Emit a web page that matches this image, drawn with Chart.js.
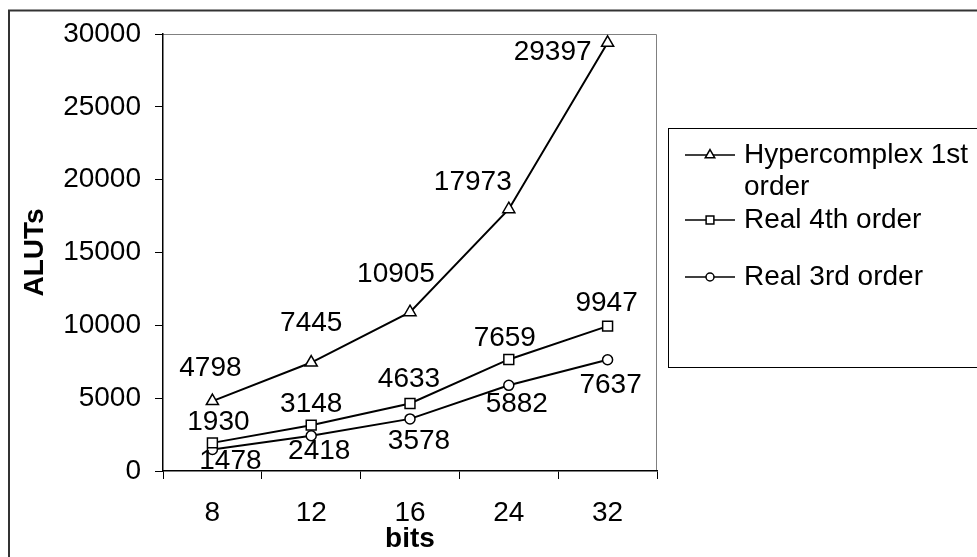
<!DOCTYPE html>
<html>
<head>
<meta charset="utf-8">
<script src="https://cdn.jsdelivr.net/npm/chart.js@4"></script>
<style>
  html, body { margin: 0; padding: 0; background: #fff; }
  #wrap { width: 977px; height: 557px; }
</style>
</head>
<body>
<div id="wrap"><canvas id="can" width="977" height="557"></canvas></div>
<script>
// values
const bits = ['8', '12', '16', '24', '32'];
const hyper1st = [4798, 7445, 10905, 17973, 29397];
const real4th = [1930, 3148, 4633, 7659, 9947];
const real3rd = [1478, 2418, 3578, 5882, 7637];
const yMin = 0, yMax = 30000, yStep = 5000;

// where each value label sits relative to its point (px)
const hyperLblOff = [[-2, -33], [0, -39], [-14, -38], [-36, -27], [-55, 9]];
const r4LblOff = [[6, -21], [0, -21], [-1, -24], [-4, -21], [-1, -23]];
const r3LblOff = [[18, 12], [8, 16], [9, 22], [8, 19], [3, 26]];

const FONT = "'Liberation Sans', Arial, sans-serif";
const FS = 28;
Chart.defaults.font.family = FONT;
Chart.defaults.color = '#000';

// outer frame + plot frame
const framePlugin = {
  id: 'frame',
  beforeDraw(chart) {
    const ctx = chart.ctx;
    ctx.save();
    ctx.strokeStyle = '#333';
    ctx.lineWidth = 2;
    ctx.strokeRect(9, 10.5, 1100, 700);
    const a = chart.chartArea;
    ctx.strokeStyle = '#808080';
    ctx.lineWidth = 1;
    ctx.beginPath();
    ctx.moveTo(a.left, a.top + 0.5);
    ctx.lineTo(a.right - 0.5, a.top + 0.5);
    ctx.lineTo(a.right - 0.5, a.bottom);
    ctx.stroke();
    ctx.restore();
  }
};

// value labels next to each point
const valueLabels = {
  id: 'valueLabels',
  afterDatasetsDraw(chart) {
    const ctx = chart.ctx;
    ctx.save();
    ctx.font = FS + 'px ' + FONT;
    ctx.fillStyle = '#000';
    ctx.textAlign = 'center';
    ctx.textBaseline = 'middle';
    chart.data.datasets.forEach((ds, di) => {
      const meta = chart.getDatasetMeta(di);
      meta.data.forEach((pt, i) => {
        const off = ds.lblOff[i];
        ctx.fillText(String(ds.data[i]), pt.x + off[0], pt.y + off[1]);
      });
    });
    ctx.restore();
  }
};

// boxed legend on the right, drawn by hand (Excel style wrap)
const boxLegend = {
  id: 'boxLegend',
  afterDraw(chart) {
    const ctx = chart.ctx;
    ctx.save();
    ctx.strokeStyle = '#000';
    ctx.lineWidth = 1;
    ctx.strokeRect(668.5, 128.5, 400, 239);
    const rows = [155, 220, 277];
    ctx.font = FS + 'px ' + FONT;
    ctx.textBaseline = 'middle';
    ctx.textAlign = 'left';
    chart.data.datasets.forEach((ds, di) => {
      const y = rows[di];
      ctx.strokeStyle = '#000';
      ctx.lineWidth = 1.5;
      ctx.beginPath();
      ctx.moveTo(685, y);
      ctx.lineTo(735, y);
      ctx.stroke();
      ctx.fillStyle = '#fff';
      ctx.lineWidth = 1.5;
      Chart.helpers.drawPoint(ctx, {pointStyle: ds.pointStyle, radius: ds.legendRadius, borderWidth: 1.5}, 710, y);
      ctx.fillStyle = '#000';
      ds.legendLines.forEach((t, k) => ctx.fillText(t, 744, y + k * 32));
    });
    ctx.restore();
  }
};

const common = {
  borderColor: '#000',
  borderWidth: 2,
  pointBackgroundColor: '#fff',
  pointBorderColor: '#000',
  pointBorderWidth: 1.5,
  tension: 0,
  fill: false
};

new Chart(document.getElementById('can').getContext('2d'), {
  type: 'line',
  data: {
    labels: bits,
    datasets: [
      Object.assign({
        label: 'Hypercomplex 1st order',
        legendLines: ['Hypercomplex 1st', 'order'],
        data: hyper1st, pointStyle: 'triangle', pointRadius: 7,
        legendRadius: 5.5, lblOff: hyperLblOff
      }, common),
      Object.assign({
        label: 'Real 4th order',
        legendLines: ['Real 4th order'],
        data: real4th, pointStyle: 'rect', pointRadius: 7,
        legendRadius: 5.5, lblOff: r4LblOff
      }, common),
      Object.assign({
        label: 'Real 3rd order',
        legendLines: ['Real 3rd order'],
        data: real3rd, pointStyle: 'circle', pointRadius: 5,
        legendRadius: 4, lblOff: r3LblOff
      }, common)
    ]
  },
  options: {
    responsive: false,
    animation: false,
    devicePixelRatio: 1,
    layout: { padding: { left: 10, right: 320, top: 34, bottom: 0 } },
    plugins: {
      legend: { display: false },
      tooltip: { enabled: false }
    },
    scales: {
      x: {
        type: 'category',
        offset: true,
        grid: { offset: true, drawOnChartArea: false, drawTicks: true, tickLength: 8, color: '#000', lineWidth: 1 },
        border: { display: true, color: '#000', width: 1.5 },
        ticks: { color: '#000', font: { size: FS }, padding: 17, maxRotation: 0 },
        title: { display: true, text: 'bits', color: '#000', font: { size: FS, weight: 'bold' }, padding: { top: 0, bottom: 1 } },
        afterFit(s) { s.height = 86; }
      },
      y: {
        min: yMin, max: yMax,
        grid: { drawOnChartArea: false, drawTicks: true, tickLength: 8, color: '#000', lineWidth: 1 },
        border: { display: true, color: '#000', width: 1.5 },
        ticks: { stepSize: yStep, color: '#000', font: { size: FS }, padding: 14, callback: (v) => String(v) },
        title: { display: true, text: 'ALUTs', color: '#000', font: { size: FS, weight: 'bold' }, padding: { top: 8, bottom: 0 } },
        afterFit(s) { s.width = 153; }
      }
    }
  },
  plugins: [framePlugin, valueLabels, boxLegend]
});
</script>
</body>
</html>
